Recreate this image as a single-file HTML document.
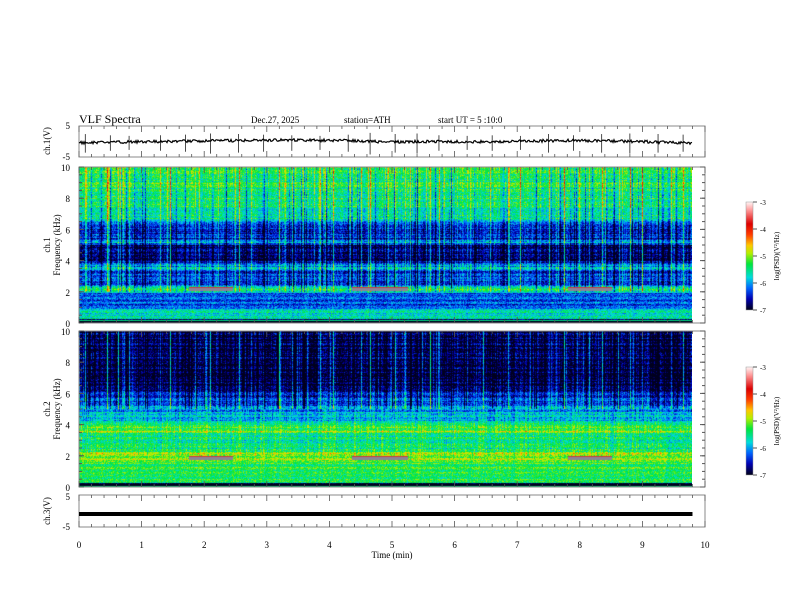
<!DOCTYPE html>
<html><head><meta charset="utf-8"><style>
body{margin:0;background:#fff;width:792px;height:612px;overflow:hidden;position:relative;font-family:"Liberation Serif",serif}
canvas{position:absolute}
svg{position:absolute;left:0;top:0}
</style></head><body>
<canvas id="sp1" width="613" height="156" style="left:79px;top:167px"></canvas>
<canvas id="sp2" width="613" height="156" style="left:79px;top:331px"></canvas>
<canvas id="cb1" width="7" height="108" style="left:746px;top:202px"></canvas>
<canvas id="cb2" width="7" height="108" style="left:746px;top:367px"></canvas>
<svg id="ov" width="792" height="612"></svg>
<script>
// ---- data ----
const timeTicks=[0,1,2,3,4,5,6,7,8,9,10];
const freqTicks=[0,2,4,6,8,10];
const cbTicks=[-3,-4,-5,-6,-7];
const ch1BandFreq=[0,0.25,0.3,0.9,1.1,1.9,2.1,2.3,2.5,3.3,3.5,3.8,4.0,5.0,5.2,5.4,6.4,6.7,8,10];
const ch1BandLevel=[-7,-7,-5.6,-5.8,-6.3,-6.3,-5.4,-5.6,-6.4,-6.4,-5.9,-6.1,-6.8,-6.8,-5.9,-6.5,-6.4,-5.6,-5.4,-5.3];
const ch2BandFreq=[0,0.25,0.3,1.5,1.7,2.2,2.4,3.4,3.6,4.0,4.2,5.0,5.3,6.0,6.3,10];
const ch2BandLevel=[-7,-7,-5.3,-5.3,-5.0,-5.0,-5.5,-5.5,-5.0,-5.3,-5.8,-6.0,-6.3,-6.5,-6.9,-6.9];
const sfericTimes=[0.1,0.45,0.5,0.62,0.8,1.05,1.3,1.45,1.7,1.85,2.1,2.35,2.55,2.75,2.95,3.2,3.4,3.6,3.85,4.05,4.3,4.5,4.65,4.9,5.05,5.2,5.4,5.6,5.75,5.95,6.2,6.45,6.6,6.85,7.05,7.3,7.5,7.75,7.9,8.15,8.35,8.55,8.8,9.0,9.25,9.45,9.65];
const sfericStrength=[1.2,1.5,1.0,1.3,0.9,1.2,1.0,1.4,1.1,0.9,1.3,1.0,1.2,0.9,1.1,1.5,1.0,1.2,0.9,1.3,1.1,1.0,1.4,0.9,1.2,1.0,1.3,1.5,1.0,1.1,0.9,1.2,1.0,1.3,0.9,1.1,1.2,1.5,1.0,0.9,1.2,1.1,1.3,1.0,1.2,0.9,1.1];
const barStart=[1.75,4.35,7.8];
const barEnd=[2.45,5.25,8.5];
const ch1BarFreq=[2.2,2.2,2.2];
const ch2BarFreq=[1.9,1.9,1.9];
const ch1SegTimes=[0,1.0,1.6,2.5,3.2,4.5,4.9,5.6,6.5,7.2,8.0,9.0,9.8];
const ch1SegLevels=[-0.4,-0.1,0.1,0.3,0.5,0.2,-0.2,0.0,-0.1,0.2,0.3,0.0,-0.6];
const ch3Level=[-1,-1];
const ch3Times=[0,9.8];
// ---- axes ----
const X0=79,X1=705;
const xs=t=>X0+(t/10)*(X1-X0);
function yF(top,f){return top+156-f/10*156;}
function hash(a,b){let h=(a*374761393+b*668265263)^0x5bd1e995;h=(h^(h>>>13))*1274126177;h=h^(h>>>16);return ((h>>>0)%10000)/10000;}
function interp(fx,fy,f){for(let i=1;i<fx.length;i++){if(f<=fx[i]){const r=(f-fx[i-1])/(fx[i]-fx[i-1]);return fy[i-1]+r*(fy[i]-fy[i-1]);}}return fy[fy.length-1];}
const cs=[[-7,[0,0,30]],[-6.6,[0,0,180]],[-6.2,[0,100,255]],[-5.8,[0,220,220]],[-5.3,[0,230,60]],[-4.9,[180,240,0]],[-4.6,[255,200,0]],[-4.2,[255,60,0]],[-3.8,[220,0,0]],[-3.3,[255,150,150]],[-3,[255,240,240]]];
function cmap(v){if(v<=cs[0][0])return cs[0][1];for(let i=1;i<cs.length;i++){if(v<=cs[i][0]){const r=(v-cs[i-1][0])/(cs[i][0]-cs[i-1][0]);return cs[i-1][1].map((c,k)=>c+r*(cs[i][1][k]-c));}}return cs[cs.length-1][1];}
function drawSpec(id,bf,bl,bfreq,seed,spHigh){
 const c=document.getElementById(id),ctx=c.getContext('2d'),W=c.width,H=c.height;
 const img=ctx.createImageData(W,H);
 const colBoost=new Float32Array(W);
 for(let i=0;i<sfericTimes.length;i++){const px=Math.round(xs(sfericTimes[i])-X0);const sgn=(i%3==2)?-0.8:0.7;if(px>=0&&px<W)colBoost[px]=sfericStrength[i]*sgn;}
 for(let x=0;x<W;x++){const cn=hash(x,seed)*0.5-0.25;const r=hash(x,seed+7);const extra=r>0.93?0.5:(r<0.08?-0.6:0);
  for(let y=0;y<H;y++){const f=(H-y)/H*10;
   let v=interp(bf,bl,f);
   const rowN=(hash(y,seed+3)-0.5)*0.5;
   v+=rowN+(hash(x*7+y,seed+11)-0.5)*0.7+cn*(f>2?1:0.3);
   if(f>spHigh)v+=colBoost[x]+extra;
   if(f<0.25){v=(hash(y,seed+5)>0.75)?-5.5:-7;}
   const tm=x/(X1-X0)*10;
   const o=(y*W+x)*4;let col=cmap(v);
   for(let b=0;b<barStart.length;b++){if(tm>=barStart[b]&&tm<=barEnd[b]&&Math.abs(f-bfreq[b])<0.14){col=(f>bfreq[b]+0.05)?[200,60,60]:[140,130,150];}}
   img.data[o]=col[0];img.data[o+1]=col[1];img.data[o+2]=col[2];img.data[o+3]=255;}}
 ctx.putImageData(img,0,0);}
drawSpec('sp1',ch1BandFreq,ch1BandLevel,ch1BarFreq,17,2.0);
drawSpec('sp2',ch2BandFreq,ch2BandLevel,ch2BarFreq,29,5.0);
['cb1','cb2'].forEach(id=>{const c=document.getElementById(id),ctx=c.getContext('2d');for(let y=0;y<108;y++){const v=-3-y/107*4;const col=cmap(v);ctx.fillStyle=`rgb(${col.map(Math.round).join(',')})`;ctx.fillRect(0,y,7,1);}});
// ---- svg ----
const NS='http://www.w3.org/2000/svg',svg=document.getElementById('ov');
function el(tag,attrs,txt){const e=document.createElementNS(NS,tag);for(const k in attrs)e.setAttribute(k,attrs[k]);if(txt!==undefined)e.textContent=txt;svg.appendChild(e);return e;}
function txt(x,y,s,size,name,anchor,extra){const e=el('text',Object.assign({x:x,y:y,'font-size':size,'font-family':'Liberation Serif, serif','text-anchor':anchor||'start',fill:'#000'},extra||{}),s);return e;}
txt(79,123,'VLF  Spectra',12,'chart-title',null,{'xml:space':'preserve'});
txt(251,123,'Dec.27, 2025',9,'date-label');
txt(344,123,'station=ATH',9,'station-label');
txt(438,123,'start  UT  =   5  :10:0',9,'start-time-label',null,{'xml:space':'preserve'});
const panels=[{top:126,h:31,name:'ch1-panel'},{top:167,h:156,name:'ch1-spec-panel'},{top:331,h:156,name:'ch2-spec-panel'},{top:495,h:32,name:'ch3-panel'}];
panels.forEach(p=>{const r=el('rect',{x:X0,y:p.top,width:X1-X0,height:p.h,fill:'none',stroke:'#888','stroke-width':1});
 for(let i=0;i<=50;i++){const t=i/5,x=xs(t),L=(i%5==0)?6:3;el('line',{x1:x,x2:x,y1:p.top+p.h,y2:p.top+p.h-L,stroke:'#555','stroke-width':0.8});el('line',{x1:x,x2:x,y1:p.top,y2:p.top+L,stroke:'#555','stroke-width':0.8});}});
[167,331].forEach((top,k)=>{freqTicks.forEach(f=>{const y=yF(top,f);txt(70,y+4,String(f),9,'freq-tick-label','end');el('line',{x1:X0,x2:X0+5,y1:y,y2:y,stroke:'#555'});el('line',{x1:X1,x2:X1-5,y1:y,y2:y,stroke:'#555'});});
 for(let f=0;f<=10;f+=0.5){const y=yF(top,f);el('line',{x1:X0,x2:X0+3,y1:y,y2:y,stroke:'#555'});el('line',{x1:X1,x2:X1-3,y1:y,y2:y,stroke:'#555'});}
 const cx=50,cy=top+78;txt(cx,cy,'ch.'+(k+1),9,'ch'+(k+1)+'-axis-label','middle',{transform:`rotate(-90 ${cx} ${cy})`});
 txt(cx+10,cy,'Frequency  (kHz)',9,'freq-axis-title','middle',{transform:`rotate(-90 ${cx+10} ${cy})`,'xml:space':'preserve'});
 const cbTop=k==0?202:367;
 el('rect',{x:746,y:cbTop,width:7,height:108,fill:'none',stroke:'#999','stroke-width':0.5});
 cbTicks.forEach((v,i)=>{const y=cbTop+i*27;el('line',{x1:753,x2:757,y1:y,y2:y,stroke:'#555'});txt(760,y+3,String(v),7,'colorbar-tick-label');});
 const lx=779,ly=cbTop+54;txt(lx,ly,'log(PSD)(V²/Hz)',7,'colorbar-title','middle',{transform:`rotate(-90 ${lx} ${ly})`});});
const y1=v=>141.5-v/10*31, y3=v=>511-v/10*30;
[[5,126],[-5,157]].forEach(a=>txt(70,a[1]+3,String(a[0]),9,'ch1-tick-label','end'));
[[5,497],[-5,527]].forEach(a=>txt(70,a[1]+3,String(a[0]),9,'ch3-tick-label','end'));
txt(50,141,'ch.1(V)',9,'ch1-voltage-label','middle',{transform:'rotate(-90 50 141)'});
txt(50,511,'ch.3(V)',9,'ch3-voltage-label','middle',{transform:'rotate(-90 50 511)'});
let d='';for(let x=0;x<=613;x++){const t=x/(X1-X0)*10;let v=interp(ch1SegTimes,ch1SegLevels,t)+(hash(x,91)-0.5)*0.9;d+=(x?'L':'M')+(X0+x)+','+y1(v).toFixed(1);}
const w=el('path',{d:d,fill:'none',stroke:'#000','stroke-width':1.2});
sfericTimes.forEach((t,i)=>{if(i%2==0){const x=xs(t);const s=el('line',{x1:x,x2:x,y1:y1(-sfericStrength[i]*3),y2:y1(sfericStrength[i]*2),stroke:'#000','stroke-width':0.7});}});
const c3=el('line',{x1:xs(ch3Times[0]),x2:xs(ch3Times[1]),y1:y3(ch3Level[0]),y2:y3(ch3Level[1]),stroke:'#000','stroke-width':4});
timeTicks.forEach(t=>txt(xs(t),548,String(t),9,'time-tick-label','middle'));
txt(392,558,'Time  (min)',9,'x-axis-title','middle',{'xml:space':'preserve'});
</script></body></html>
